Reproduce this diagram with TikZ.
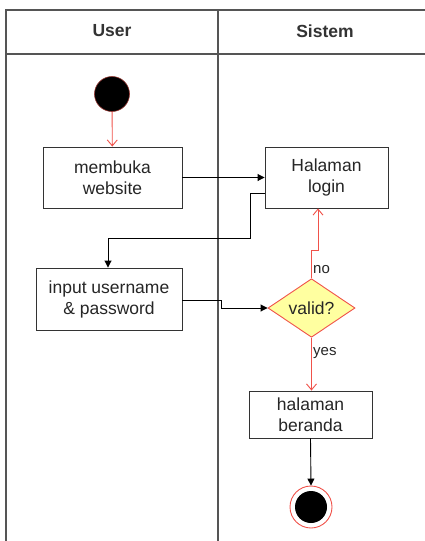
\documentclass[tikz,border=0pt]{standalone}
\usepackage{fontspec}
\setmainfont{Liberation Sans}
\usetikzlibrary{arrows.meta,shapes.geometric}
\definecolor{flowred}{HTML}{F0524A}
\definecolor{decfill}{HTML}{FFFFA0}
\definecolor{lanegray}{HTML}{555555}
\tikzset{
  lane/.style={draw=lanegray,line width=1.6pt},
  actbox/.style={draw=black!80,line width=0.9pt,fill=white,align=center,text=black!85,
    font=\fontsize{17.5}{21}\selectfont,inner sep=0pt},
  blackflow/.style={draw=black,line width=0.9pt,-{Triangle[length=7pt,width=7pt]}},
  redflow/.style={draw=flowred,line width=0.9pt,-{Straight Barb[length=6pt,width=10pt]}},
  lbl/.style={font=\fontsize{15}{17}\selectfont,text=black!85,inner sep=1pt},
  hdr/.style={font=\fontsize{17.5}{20}\selectfont\bfseries,text=black!80}
}
\begin{document}
\begin{tikzpicture}[x=1pt,y=-1pt]
\useasboundingbox (0,0) rectangle (425,541);
% swimlane frame
\draw[lane] (6,541) -- (6,10) -- (425,10);
\draw[lane] (6,54) -- (425,54);
\draw[lane] (218,10) -- (218,541);
\node[hdr] (huser) at (112,31) {User};
\node[hdr] (hsys) at (325,31) {Sistem};
% activities
\node[circle,fill=black,draw=flowred!60!black,line width=0.6pt,minimum size=35pt,inner sep=0pt] (start) at (112,94) {};
\node[actbox,minimum width=139pt,minimum height=61pt] (buka) at (112.5,177.5) {membuka\\website};
\node[actbox,minimum width=123pt,minimum height=61pt] (login) at (326.5,177.5) {Halaman\\login};
\node[actbox,minimum width=146pt,minimum height=62pt] (input) at (109,299) {input username\\\& password};
\node[diamond,draw=flowred,fill=decfill,line width=0.9pt,minimum width=87pt,minimum height=44pt,inner sep=0pt,
  text=black!85,font=\fontsize{17.5}{20}\selectfont] (valid) at (311.5,308) {valid?};
\node[actbox,minimum width=123pt,minimum height=47pt] (beranda) at (310.5,414.5) {halaman\\beranda};
\node[circle,draw=flowred,fill=white,line width=0.9pt,minimum size=42pt,inner sep=0pt] (end) at (311,507) {};
\node[circle,fill=black,minimum size=32pt,inner sep=0pt] (endin) at (end) {};
% connectors
\draw[redflow] (start) -- (buka);
\draw[blackflow] (buka.east) -- (login.west);
\coordinate (j1) at (250,193);
\coordinate (j2) at (250,238);
\coordinate (j3) at (108,238);
\draw[blackflow] (login.west |- j1) -- (j1) -- (j2) -- (j3) -- (j3 |- input.north);
\coordinate (k1) at (221,300);
\coordinate (k2) at (221,308);
\draw[blackflow] (input.east |- k1) -- (k1) -- (k2) -- (valid.west);
\coordinate (n1) at (311.5,250);
\coordinate (n2) at (318,250);
\draw[redflow] (valid.north) -- (n1) -- (n2) -- (n2 |- login.south);
\node[lbl,anchor=west] (nolbl) at (312,270) {no};
\draw[redflow] (valid.south) -- (valid.south |- beranda.north);
\node[lbl,anchor=west] (yeslbl) at (312,353) {yes};
\draw[blackflow] (beranda.south) -- (end.north);
\end{tikzpicture}
\end{document}
